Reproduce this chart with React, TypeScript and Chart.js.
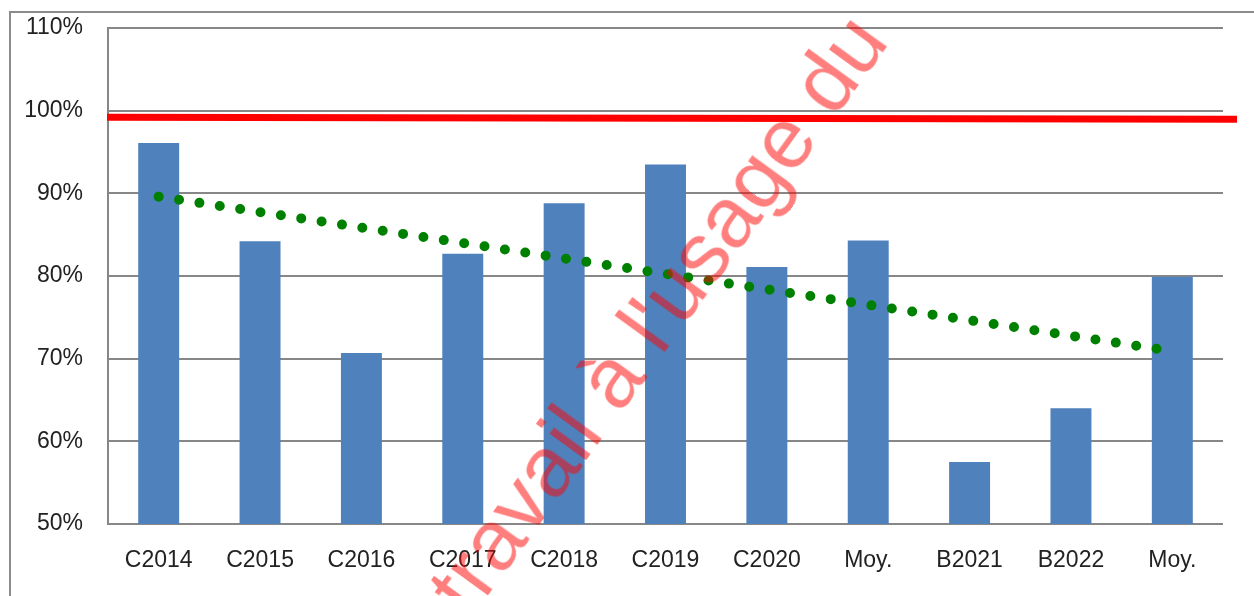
import React, { useEffect, useRef } from "react";
import { Chart, registerables } from "chart.js";

Chart.register(...registerables);

const categories = ["C2014", "C2015", "C2016", "C2017", "C2018", "C2019", "C2020", "Moy.", "B2021", "B2022", "Moy."];
const rates = [96.1, 84.2, 70.7, 82.7, 88.8, 93.5, 81.1, 84.3, 57.5, 64.0, 79.9];
const trendValues = [89.6, null, null, null, null, null, null, null, null, null, 70.9];
const targetLine = [99.2, 98.95];
const yTicks = { min: 50, max: 110, step: 10 };
const watermarkText = "travail à l'usage du";

const GRID = "#878787";
const FONT = "'Liberation Sans', Arial, sans-serif";

const targetLinePlugin = {
  id: "targetLine",
  afterDatasetsDraw(chart: any) {
    const { ctx, chartArea, scales } = chart;
    const y = scales.y;
    const y0 = y.getPixelForValue(targetLine[0]);
    const y1 = y.getPixelForValue(targetLine[1]);
    ctx.save();
    ctx.strokeStyle = "#FF0000";
    ctx.lineWidth = 7;
    ctx.lineCap = "butt";
    ctx.beginPath();
    ctx.moveTo(chartArea.left - 1, y0);
    ctx.lineTo(chartArea.right + 14, y1);
    ctx.stroke();
    ctx.restore();
  },
};

export default function App() {
  const ref = useRef<HTMLCanvasElement | null>(null);

  useEffect(() => {
    if (!ref.current) return;
    const chart = new Chart(ref.current, {
      type: "bar",
      data: {
        labels: categories,
        datasets: [
          {
            type: "line",
            data: trendValues as any,
            borderColor: "#008000",
            borderWidth: 10,
            borderDash: [0, 20.6],
            borderCapStyle: "round",
            spanGaps: true,
            pointRadius: 0,
            fill: false,
            order: 0,
          } as any,
          {
            type: "bar",
            data: rates,
            backgroundColor: "#4F81BD",
            borderWidth: 0,
            categoryPercentage: 1,
            barPercentage: 0.404,
            order: 1,
          },
        ],
      },
      options: {
        responsive: false,
        animation: false,
        events: [],
        layout: { padding: { left: 0, right: 31, top: 28, bottom: 0 } },
        plugins: { legend: { display: false }, tooltip: { enabled: false } },
        scales: {
          x: {
            grid: { display: false },
            border: { display: false },
            ticks: {
              color: "#222",
              font: { family: FONT, size: 23 },
              padding: 15,
              maxRotation: 0,
              autoSkip: false,
            },
            afterFit: (s: any) => {
              s.height = 72;
            },
          },
          y: {
            min: yTicks.min,
            max: yTicks.max,
            grid: { color: GRID, lineWidth: 2, drawTicks: false },
            border: { display: true, color: GRID, width: 2 },
            ticks: {
              stepSize: yTicks.step,
              color: "#222",
              font: { family: FONT, size: 23 },
              padding: 25,
              callback: (v: any) => v + "%",
            },
            afterFit: (s: any) => {
              s.width = 108;
              s.paddingTop = 0;
              s.paddingBottom = 0;
            },
          },
        },
      },
      plugins: [targetLinePlugin],
    });
    return () => chart.destroy();
  }, []);

  return (
    <div style={{ position: "fixed", left: 0, top: 0, width: 1254, height: 596, background: "#fff", overflow: "hidden" }}>
      <div
        style={{
          position: "absolute",
          left: 9,
          top: 11,
          width: 1300,
          height: 700,
          borderTop: "2px solid #8c8c8c",
          borderLeft: "2px solid #8c8c8c",
        }}
      />
      <canvas ref={ref} width={1254} height={596} style={{ position: "absolute", left: 0, top: 0 }} />
      <div
        style={{
          position: "absolute",
          left: 656,
          top: 313,
          transform: "translate(-50%, -50%) rotate(-54deg)",
          whiteSpace: "nowrap",
          fontFamily: FONT,
          fontSize: 86,
          lineHeight: 1,
          color: "rgba(255,0,0,0.5)",
          pointerEvents: "none",
        }}
      >
        {watermarkText}
      </div>
    </div>
  );
}
